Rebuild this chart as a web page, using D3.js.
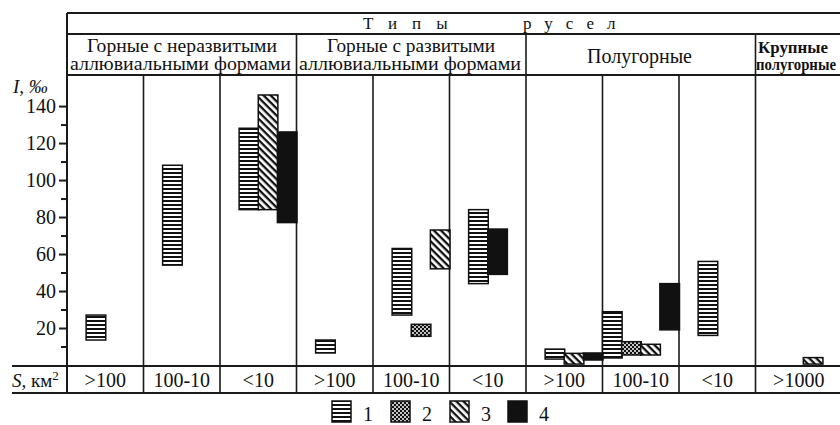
<!DOCTYPE html>
<html><head><meta charset="utf-8">
<script src="https://cdn.jsdelivr.net/npm/d3@7"></script>
</head><body style="margin:0;background:#fff">
<svg id="chart" width="840" height="425" style="display:block"></svg>
<script>
// ---------- data ----------
const basinClasses = [">100","100-10","<10",">100","100-10","<10",">100","100-10","<10",">1000"];
const titleWords = ["Типы","русел"];
const groupLines = [["Горные с неразвитыми","аллювиальными формами"],["Горные с развитыми","аллювиальными формами"],["Полугорные"],["Крупные","полугорные"]];
const groupSpan = [3,3,3,1];
const yTicks = [20,40,60,80,100,120,140];
const yMinorTicks = [10,30,50,70,90,110,130];
const legendLabels = ["1","2","3","4"];

// type 1 (horizontal lines)
const type1Col   = [0,1,2,3,4,5,6,7,8];
const type1Low   = [13.5,54,84,6.5,27,44,3.2,3.8,16];
const type1High  = [27,108,128,13.5,63,84,8.6,28.8,56];
const type1Order = [1,1,1,1,1,1,1,0,1];
// type 2 (dotted)
const type2Col   = [4,7];
const type2Low   = [15.5,5.4];
const type2High  = [22,12.6];
const type2Order = [2,1];
// type 3 (diagonal)
const type3Col   = [2,4,6,7,9];
const type3Low   = [84,52,0.5,5.4,0.5];
const type3High  = [146,73,6.3,11.2,4];
const type3Order = [2,3,2,2,2.5];
// type 4 (solid)
const type4Col   = [2,5,6,7];
const type4Low   = [77,49,2.7,19];
const type4High  = [126,73.5,6.5,44];
const type4Order = [3,2,3,3];

// ---------- build ----------
const FONT = '"Liberation Serif"';
const svg = d3.select("#chart");
const defs = svg.append("defs");

const p1 = defs.append("pattern").attr("id","pat0").attr("patternUnits","userSpaceOnUse").attr("width",4).attr("height",4);
p1.append("rect").attr("width",4).attr("height",4).attr("fill","#fff");
p1.append("rect").attr("width",4).attr("height",2).attr("fill","#111");

const p2 = defs.append("pattern").attr("id","pat1").attr("patternUnits","userSpaceOnUse").attr("width",4).attr("height",4);
p2.append("rect").attr("width",4).attr("height",4).attr("fill","#111");
p2.append("circle").attr("cx",1).attr("cy",1).attr("r",1).attr("fill","#fff");
p2.append("circle").attr("cx",3).attr("cy",3).attr("r",1).attr("fill","#fff");

const p3 = defs.append("pattern").attr("id","pat2").attr("patternUnits","userSpaceOnUse").attr("width",5).attr("height",5).attr("patternTransform","rotate(45)");
p3.append("rect").attr("width",5).attr("height",5).attr("fill","#fff");
p3.append("rect").attr("width",5).attr("height",2.3).attr("fill","#111");

const fills = ["url(#pat0)","url(#pat1)","url(#pat2)","#111"];

const L = 67, R = 842, TOP = 13, ROW1 = 34, ROW2 = 75, BASE = 366, SROW = 393;
const colX = d3.scaleLinear().domain([0,9]).range([L,755.5]);
const colRight = i => i < 9 ? colX(i+1) : R;
const colW = colX(1) - colX(0);
const slotW = colW / 4;
const y = d3.scaleLinear().domain([0,156.8]).range([365,75]);

const lineColor = "#1a1a1a";
const g = svg.append("g");

[[L,TOP],[L,ROW1],[L,ROW2],[12,BASE],[12,SROW]].forEach(([x0,yy])=>{
  g.append("line").attr("x1",x0).attr("x2",R).attr("y1",yy).attr("y2",yy)
   .attr("stroke",lineColor).attr("stroke-width",2);
});
g.append("line").attr("x1",L).attr("x2",L).attr("y1",TOP).attr("y2",SROW).attr("stroke",lineColor).attr("stroke-width",2);
d3.range(1,10).forEach(i=>{
  g.append("line").attr("x1",colX(i)).attr("x2",colX(i)).attr("y1",ROW2).attr("y2",SROW)
   .attr("stroke",lineColor).attr("stroke-width",1.6);
});
let acc = 0;
const groupStart = groupSpan.map(s=>{const a=acc; acc+=s; return a;});
groupStart.slice(1).forEach(c=>{
  g.append("line").attr("x1",colX(c)).attr("x2",colX(c)).attr("y1",ROW1).attr("y2",ROW2)
   .attr("stroke",lineColor).attr("stroke-width",1.6);
});

function txt(x,yy,size){
  return svg.append("text").attr("x",x).attr("y",yy)
    .style("font-family",FONT).attr("font-size",size).attr("fill","#111");
}

// title row
txt(363,29,17).attr("letter-spacing",15).text(titleWords[0]);
txt(523,29,17).attr("letter-spacing",13).text(titleWords[1]);

// group headers
const groupText = [
  {lines:[{y:52,x0:87,x1:277},{y:70,x0:70,x1:291}], size:18, weight:"normal"},
  {lines:[{y:52,x0:327,x1:495},{y:70,x0:299,x1:521}], size:18, weight:"normal"},
  {lines:[{y:63,x0:587,x1:692}], size:21, weight:"normal"},
  {lines:[{y:53,x0:758,x1:828},{y:70,x0:756,x1:836}], size:16, weight:"bold"}
];
groupLines.forEach((lines,gi)=>{
  lines.forEach((t,li)=>{
    const p = groupText[gi].lines[li];
    txt(p.x0,p.y,groupText[gi].size).attr("font-weight",groupText[gi].weight)
      .attr("textLength",p.x1-p.x0).attr("lengthAdjust","spacingAndGlyphs").text(t);
  });
});

// y axis
const ax = svg.append("g").attr("transform",`translate(${L},0)`)
  .call(d3.axisLeft(y).tickValues(yTicks).tickSize(8).tickPadding(3).tickFormat(d3.format("d")));
ax.attr("font-family",null).attr("font-size",null);
ax.select(".domain").remove();
ax.selectAll("line").attr("stroke",lineColor).attr("stroke-width",2);
ax.selectAll("text").style("font-family",FONT).attr("font-size",20).attr("fill","#111").attr("dy","0.34em");
const axm = svg.append("g").attr("transform",`translate(${L},0)`)
  .call(d3.axisLeft(y).tickValues(yMinorTicks).tickSize(6).tickFormat(""));
axm.select(".domain").remove();
axm.selectAll("line").attr("stroke",lineColor).attr("stroke-width",2);

// axis label
txt(13,93,19).attr("font-style","italic").text("I, ‰");

// S row
const sl = txt(12,387,19);
sl.append("tspan").attr("font-style","italic").text("S,");
sl.append("tspan").text(" км");
sl.append("tspan").attr("font-size",13).attr("dy",-7).text("2");

basinClasses.forEach((c,i)=>{
  txt((colX(i)+colRight(i))/2,387,20).attr("text-anchor","middle").text(c);
});

// bars
const series = [
  {col:type1Col,low:type1Low,high:type1High,order:type1Order},
  {col:type2Col,low:type2Low,high:type2High,order:type2Order},
  {col:type3Col,low:type3Low,high:type3High,order:type3Order},
  {col:type4Col,low:type4Low,high:type4High,order:type4Order}
];
const bars = [];
series.forEach((s,t)=>s.col.forEach((c,k)=>bars.push({t,c,lo:s.low[k],hi:s.high[k],o:s.order[k]})));
svg.append("g").selectAll("rect").data(bars).join("rect")
  .attr("x",d=>colX(d.c)+d.o*slotW)
  .attr("width",slotW+0.5)
  .attr("y",d=>y(d.hi))
  .attr("height",d=>y(d.lo)-y(d.hi))
  .attr("fill",d=>fills[d.t])
  .attr("stroke","#111").attr("stroke-width",1.5);

// legend
const legX = [332,391,450,508];
legendLabels.forEach((lab,i)=>{
  svg.append("rect").attr("x",legX[i]).attr("y",401).attr("width",19).attr("height",21)
    .attr("fill",fills[i]).attr("stroke","#111").attr("stroke-width",1.5);
  txt(legX[i]+31,421,20).text(lab);
});
</script>
</body></html>
